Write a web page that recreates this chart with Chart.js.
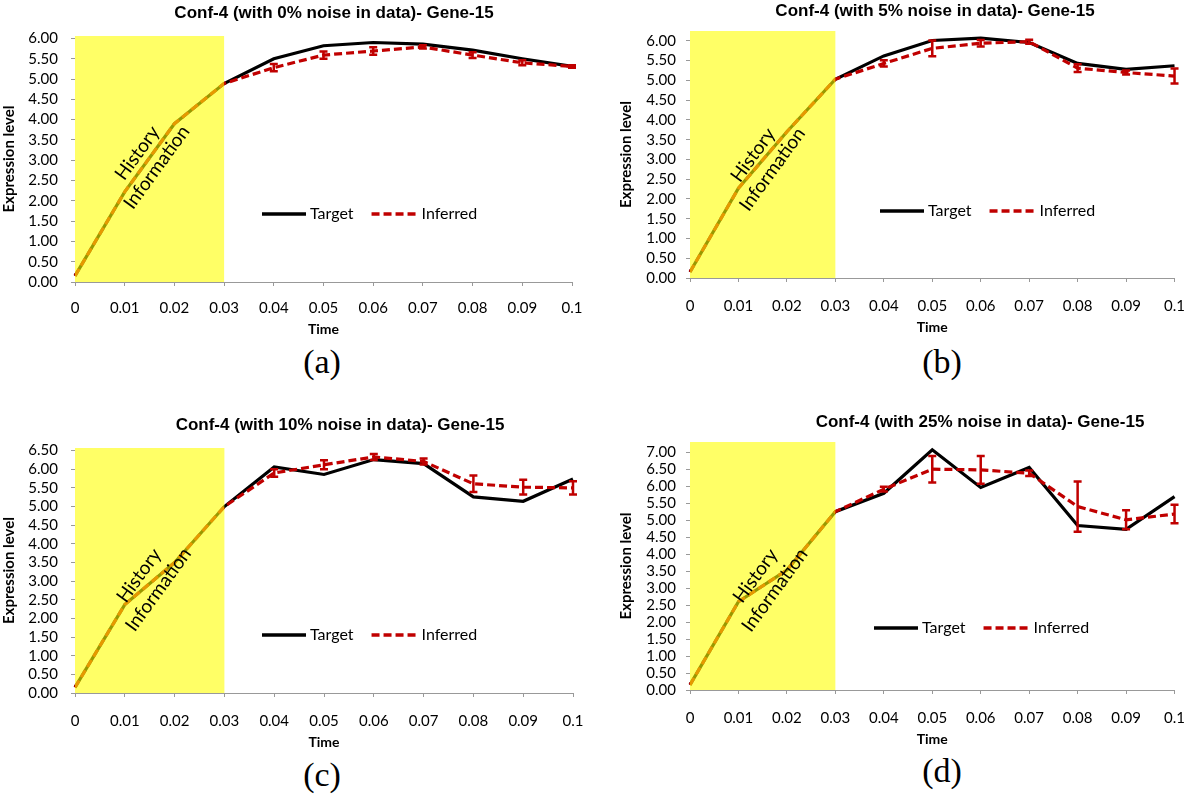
<!DOCTYPE html>
<html>
<head>
<meta charset="utf-8">
<script src="https://cdn.jsdelivr.net/npm/chart.js@4.4.1/dist/chart.umd.min.js"></script>
<style>
  html, body { margin: 0; padding: 0; background: #fff; }
  #page { position: relative; width: 1200px; height: 803px; overflow: hidden; }
  canvas { position: absolute; }
  .title { position: absolute; font: bold 17px "Liberation Sans", Arial, sans-serif; white-space: nowrap; transform: translate(-50%, -50%); color: #000; }
  .cap { position: absolute; font: 34px "Liberation Serif", "Times New Roman", serif; transform: translate(-50%, -50%); color: #000; }
</style>
</head>
<body>
<div id="page">
  <canvas id="chartA" width="600" height="342" style="left:0;top:0"></canvas>
  <canvas id="chartB" width="600" height="340" style="left:600px;top:0"></canvas>
  <canvas id="chartC" width="600" height="355" style="left:0;top:400px"></canvas>
  <canvas id="chartD" width="600" height="352" style="left:600px;top:400px"></canvas>

  <div class="title" style="left:334px;top:13px">Conf-4 (with 0% noise in data)- Gene-15</div>
  <div class="title" style="left:935px;top:11px">Conf-4 (with 5% noise in data)- Gene-15</div>
  <div class="title" style="left:340px;top:425px">Conf-4 (with 10% noise in data)- Gene-15</div>
  <div class="title" style="left:980px;top:422px">Conf-4 (with 25% noise in data)- Gene-15</div>

  <div class="cap" style="left:322px;top:362px">(a)</div>
  <div class="cap" style="left:942px;top:362px">(b)</div>
  <div class="cap" style="left:322px;top:775px">(c)</div>
  <div class="cap" style="left:942px;top:771px">(d)</div>
</div>
<script>
// categories (time points)
const timeLabels = ["0", "0.01", "0.02", "0.03", "0.04", "0.05", "0.06", "0.07", "0.08", "0.09", "0.1"];
const historyEnd = 3; // index of 0.03, end of the history window

// (a) 0% noise
const targetA   = [0.15, 2.22, 3.90, 4.89, 5.50, 5.82, 5.90, 5.86, 5.71, 5.50, 5.31];
const inferredA = [0.15, 2.22, 3.90, 4.89, 5.28, 5.59, 5.69, 5.79, 5.59, 5.40, 5.31];
const errA      = [0, 0, 0, 0, 0.09, 0.09, 0.09, 0.04, 0.07, 0.06, 0.03];

// (b) 5% noise
const targetB   = [0.15, 2.27, 3.70, 5.03, 5.62, 6.01, 6.07, 5.96, 5.43, 5.28, 5.37];
const inferredB = [0.15, 2.27, 3.70, 5.03, 5.43, 5.81, 5.94, 5.98, 5.31, 5.20, 5.11];
const errB      = [0, 0, 0, 0, 0.08, 0.20, 0.08, 0.05, 0.10, 0.05, 0.19];

// (c) 10% noise
const targetC   = [0.15, 2.37, 3.50, 5.00, 6.06, 5.86, 6.26, 6.15, 5.26, 5.14, 5.74];
const inferredC = [0.15, 2.37, 3.50, 5.00, 5.90, 6.12, 6.33, 6.21, 5.61, 5.52, 5.50];
const errC      = [0, 0, 0, 0, 0.10, 0.12, 0.08, 0.08, 0.22, 0.20, 0.18];

// (d) 25% noise
const targetD   = [0.15, 2.60, 3.53, 5.25, 5.79, 7.07, 5.96, 6.55, 4.84, 4.73, 5.69];
const inferredD = [0.15, 2.60, 3.53, 5.25, 5.91, 6.50, 6.48, 6.38, 5.40, 5.01, 5.18];
const errD      = [0, 0, 0, 0, 0.07, 0.39, 0.41, 0.08, 0.74, 0.28, 0.27];

// top of each value axis (also top of the yellow history box)
const yMaxA = 6.06, yMaxB = 6.25, yMaxC = 6.57, yMaxD = 7.3;

const RED = "#c00000";
const SANS = "Lato, 'Open Sans', sans-serif";

// error bars, yellow history box, rotated note and legend
function makeOverlay(p) {
  return {
    id: "overlay",
    afterDatasetsDraw(chart) {
      const {ctx, scales: {x, y}} = chart;
      ctx.save();
      ctx.strokeStyle = RED;
      ctx.lineWidth = 2.5;
      p.inferred.forEach((v, i) => {
        const e = p.err[i];
        if (!e) return;
        const px = x.getPixelForValue(i);
        const hi = y.getPixelForValue(v + e), lo = y.getPixelForValue(v - e);
        ctx.beginPath();
        ctx.moveTo(px, hi); ctx.lineTo(px, lo);
        ctx.moveTo(px - 4, hi); ctx.lineTo(px + 4, hi);
        ctx.moveTo(px - 4, lo); ctx.lineTo(px + 4, lo);
        ctx.stroke();
      });
      ctx.restore();

      // yellow box drawn over the lines, semi transparent
      const x0 = x.getPixelForValue(0), x1 = x.getPixelForValue(historyEnd);
      const y0 = y.getPixelForValue(p.yMax), y1 = y.getPixelForValue(0);
      ctx.save();
      ctx.globalAlpha = 0.6;
      ctx.fillStyle = "#ffff00";
      ctx.fillRect(x0, y0, x1 - x0, y1 - y0);
      ctx.restore();

      // "History Information"
      ctx.save();
      ctx.translate(x.getPixelForValue(p.noteX), y.getPixelForValue(p.noteY));
      ctx.rotate(-54 * Math.PI / 180);
      ctx.fillStyle = "#000";
      ctx.font = "19px " + SANS;
      ctx.textAlign = "center";
      ctx.textBaseline = "middle";
      ctx.fillText("History", 0, -12);
      ctx.fillText("Information", 0, 12);
      ctx.restore();
    },
    afterDraw(chart) {
      const ctx = chart.ctx;
      let lx = p.legendX;
      const ly = p.legendY;
      ctx.save();
      ctx.lineWidth = 3.3;
      ctx.strokeStyle = "#000";
      ctx.beginPath(); ctx.moveTo(lx, ly); ctx.lineTo(lx + 44, ly); ctx.stroke();
      ctx.font = "16px " + SANS;
      ctx.fillStyle = "#000";
      ctx.textBaseline = "middle";
      ctx.fillText("Target", lx + 48, ly);
      lx += 48 + ctx.measureText("Target").width + 18;
      ctx.strokeStyle = RED;
      ctx.setLineDash([8, 4]);
      ctx.beginPath(); ctx.moveTo(lx, ly); ctx.lineTo(lx + 46, ly); ctx.stroke();
      ctx.setLineDash([]);
      ctx.fillText("Inferred", lx + 50, ly);
      ctx.restore();
    }
  };
}

function makeChart(id, p) {
  return new Chart(document.getElementById(id), {
    type: "line",
    data: {
      labels: timeLabels,
      datasets: [
        { label: "Target", data: p.target, borderColor: "#000", borderWidth: 3.2, pointRadius: 0, tension: 0, order: 1 },
        { label: "Inferred", data: p.inferred, borderColor: RED, borderWidth: 3.2, borderDash: [8, 4], pointRadius: 0, tension: 0, order: 0 }
      ]
    },
    options: {
      responsive: false,
      animation: false,
      devicePixelRatio: 1,
      layout: { padding: { top: p.top, right: p.right, left: 0, bottom: 0 } },
      plugins: { legend: { display: false }, tooltip: { enabled: false } },
      scales: {
        x: {
          offset: false,
          grid: { drawOnChartArea: false, drawTicks: true, tickLength: 4, color: "#999" },
          border: { color: "#999", width: 1 },
          ticks: { padding: p.xPad, maxRotation: 0, autoSkip: false, color: "#000", font: { family: SANS, size: 15 } },
          title: { display: true, text: "Time", color: "#000", font: { family: SANS, size: 14, weight: "bold" }, padding: { top: 0, bottom: 4 } },
          afterFit: s => { s.height = p.xh; }
        },
        y: {
          min: 0,
          max: p.yMax,
          grid: { drawOnChartArea: false, drawTicks: true, tickLength: 4, color: "#999" },
          border: { display: false },
          ticks: { stepSize: 0.5, includeBounds: false, autoSkip: false, maxTicksLimit: 30, padding: p.yPad, color: "#000", font: { family: SANS, size: 15 }, callback: v => v.toFixed(2) },
          title: { display: true, text: "Expression level", color: "#000", font: { family: SANS, size: 15, weight: "bold" }, padding: { top: p.yTitlePad, bottom: 0 } },
          afterFit: s => { s.width = p.left; }
        }
      }
    },
    plugins: [makeOverlay(p)]
  });
}

makeChart("chartA", { target: targetA, inferred: inferredA, err: errA, yMax: yMaxA,
  left: 75, right: 28, top: 36, xh: 60, xPad: 13, yPad: 13, yTitlePad: 0,
  noteX: 1.45, noteY: 3.0, legendX: 262, legendY: 214 });
makeChart("chartB", { target: targetB, inferred: inferredB, err: errB, yMax: yMaxB,
  left: 90, right: 11, top: 31, xh: 62, xPad: 15, yPad: 10, yTitlePad: 17,
  noteX: 1.5, noteY: 2.93, legendX: 280, legendY: 211 });
makeChart("chartC", { target: targetC, inferred: inferredC, err: errC, yMax: yMaxC,
  left: 75, right: 27, top: 48, xh: 62, xPad: 15, yPad: 13, yTitlePad: 0,
  noteX: 1.48, noteY: 2.96, legendX: 262, legendY: 235 });
makeChart("chartD", { target: targetD, inferred: inferredD, err: errD, yMax: yMaxD,
  left: 90, right: 10, top: 42, xh: 62, xPad: 15, yPad: 10, yTitlePad: 17,
  noteX: 1.55, noteY: 3.15, legendX: 274, legendY: 228 });
</script>
</body>
</html>
